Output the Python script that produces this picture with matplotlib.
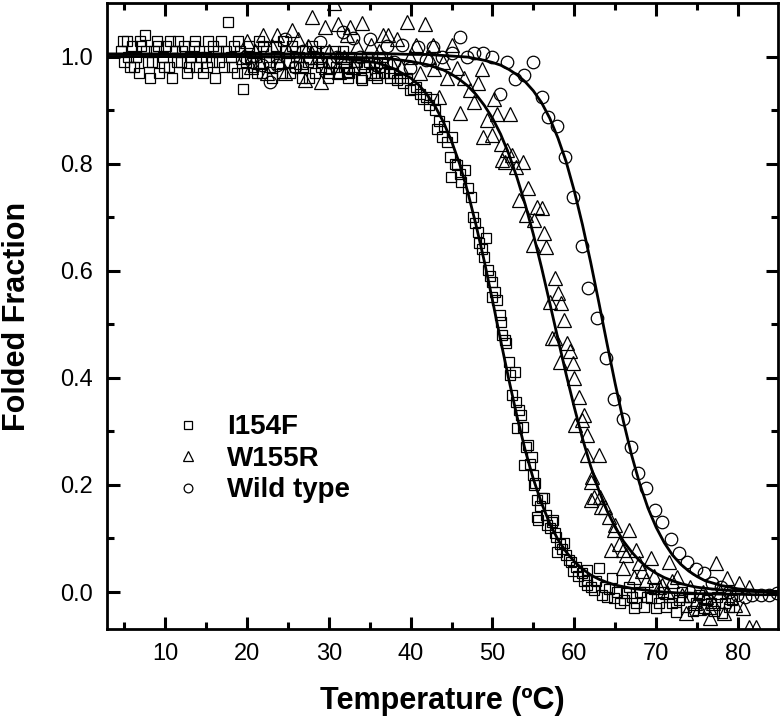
import matplotlib
matplotlib.use('Agg')
import matplotlib.pyplot as plt

plt.rcParams['font.family'] = ['Liberation Sans', 'DejaVu Sans']

# I154F (squares)
i154f_t = [4.6, 5.0, 5.3, 5.7, 6.0, 6.4, 6.8, 7.1, 7.5, 7.9, 8.2, 8.6, 9.0, 9.3, 9.7,
           10.1, 10.5, 10.8, 11.2, 11.6, 12.0, 12.3, 12.7, 13.1, 13.5, 13.8, 14.2, 14.6,
           15.0, 15.3, 15.7, 16.1, 16.5, 16.8, 17.2, 17.7, 18.0, 18.4, 18.8, 19.2, 19.5,
           19.9, 20.3, 20.7, 21.1, 21.5, 21.9, 22.3, 22.7, 23.1, 23.5, 23.9, 24.3, 24.7,
           25.1, 25.5, 25.9, 26.3, 26.7, 27.1, 27.5, 27.9, 28.3, 28.7, 29.1, 29.5, 29.9,
           30.3, 30.7, 31.1, 31.5, 31.9, 32.3, 32.7, 33.1, 33.5, 33.9, 34.3, 34.7, 35.1,
           35.5, 35.9, 36.3, 36.7, 37.1, 37.5, 37.9, 38.3, 38.7, 39.1, 39.5, 39.9, 40.3,
           40.7, 41.1, 41.5, 41.9, 42.3, 42.7, 43.0, 43.2, 43.5, 43.8, 44.1, 44.4, 44.8,
           44.9, 45.1, 45.4, 45.7, 46.0, 46.2, 46.6, 47.0, 47.4, 47.6, 47.9, 48.2, 48.4,
           48.7, 49.0, 49.2, 49.4, 49.7, 49.9, 50.0, 50.3, 50.6, 50.9, 51.1, 51.2, 51.5,
           51.7, 52.0, 52.1, 52.4, 52.7, 52.9, 53.0, 53.2, 53.5, 53.7, 53.9, 54.1, 54.3,
           54.6, 54.8, 54.9, 55.1, 55.2, 55.4, 55.5, 55.6, 55.8, 56.1, 56.3, 56.6, 56.7,
           57.0, 57.3, 57.4, 57.6, 57.8, 57.9, 58.2, 58.5, 58.8, 59.0, 59.3, 59.6, 59.9,
           60.2, 60.5, 60.9, 61.2, 61.5, 61.5, 61.6, 62.0, 62.4, 62.7, 63.0, 63.4, 63.7,
           64.0, 64.3, 64.6, 64.9, 65.2, 65.6, 66.1, 66.3, 66.7, 67.0, 67.3, 67.6, 68.0,
           68.5, 68.9, 69.4, 69.7, 70.0, 70.4, 70.8, 71.2, 71.6, 72.0, 72.4, 72.8, 73.2,
           73.7, 74.1, 74.5, 74.9, 75.3, 75.8, 76.2, 76.7, 77.1, 77.5, 78.0, 78.4, 78.9,
           79.3,
           4.8, 5.5, 6.2, 6.9, 7.7, 8.4, 9.1, 9.9, 10.6, 11.4, 12.1, 12.9, 13.6, 14.4,
           15.1, 15.9, 16.6, 17.4, 18.2, 18.9, 19.7, 20.4, 21.2, 22.0, 22.8, 23.6, 24.4,
           25.2, 26.0, 26.8, 27.6, 28.4, 29.2, 30.0, 30.9, 31.7, 32.5, 33.3, 34.1, 34.9,
           35.7, 36.5, 37.3, 32.2]
i154f_f = [1.01, 0.99, 1.03, 0.98, 1.02, 1.00, 0.97, 1.02, 1.04, 0.99, 0.96, 1.01, 1.03, 0.97, 1.00,
           1.02, 0.98, 0.96, 1.01, 1.03, 0.99, 1.02, 0.97, 1.00, 1.02, 0.98, 1.01, 0.97,
           1.00, 1.03, 0.99, 0.96, 1.01, 1.03, 0.98, 1.065, 1.00, 1.02, 0.97, 1.01, 0.94,
           0.99, 1.02, 0.98, 1.00, 1.03, 0.97, 1.01, 0.99, 0.96, 1.02, 1.00, 0.97, 1.01,
           0.99, 1.02, 0.98, 1.00, 0.96, 1.01, 0.99, 1.02, 0.97, 1.00, 0.98, 1.01, 0.96,
           0.99, 1.01, 0.97, 1.00, 0.98, 0.96, 1.00, 0.98, 0.99, 0.96, 0.98, 1.00, 0.97,
           0.99, 0.96, 0.98, 0.97, 0.99, 0.96, 0.97, 0.957, 0.96, 0.95, 0.96, 0.938, 0.94,
           0.944, 0.93, 0.92, 0.925, 0.91, 0.92, 0.90, 0.864, 0.88, 0.85, 0.87, 0.84, 0.813,
           0.776, 0.849, 0.80, 0.798, 0.78, 0.766, 0.789, 0.755, 0.738, 0.701, 0.69, 0.673, 0.652,
           0.64, 0.626, 0.662, 0.602, 0.59, 0.579, 0.551, 0.56, 0.546, 0.518, 0.505, 0.48, 0.47,
           0.465, 0.43, 0.405, 0.368, 0.411, 0.355, 0.306, 0.34, 0.331, 0.308, 0.237, 0.27, 0.274,
           0.24, 0.252, 0.219, 0.20, 0.204, 0.172, 0.14, 0.135, 0.16, 0.176, 0.176, 0.144, 0.125,
           0.12, 0.131, 0.135, 0.11, 0.103, 0.075, 0.09, 0.08, 0.092, 0.069, 0.06, 0.056, 0.04,
           0.047, 0.03, 0.035, 0.02, 0.041, 0.013, 0.022, 0.01, 0.004, 0.02, 0.045, -0.006, 0.01,
           -0.01, 0.005, 0.026, -0.011, 0.0, -0.02, -0.015, -0.002, 0.01, -0.01, -0.03, -0.021, 0.0,
           -0.028, -0.01, -0.011, 0.005, -0.03, -0.02, 0.0, -0.028, -0.01, -0.02, -0.037, -0.015, 0.0,
           -0.028, -0.01, -0.035, -0.021, -0.005, -0.03, -0.015, -0.021, -0.035, -0.01, -0.04, -0.02, -0.028,
           -0.015,
           1.03, 1.00, 0.98, 1.03, 1.01, 0.99, 1.02, 0.98, 1.03, 0.99, 1.01, 0.98, 1.03, 1.00,
           0.98, 1.02, 0.99, 1.01, 0.98, 1.03, 0.97, 1.00, 0.97, 1.02, 0.98, 1.00, 1.03,
           0.97, 1.00, 0.98, 0.96, 1.01, 0.99, 0.97, 0.98, 1.01, 0.97, 0.99, 0.957, 0.99,
           0.97, 1.00, 0.97, 0.972]

# W155R (triangles)
w155r_t = [19.5, 20.0, 20.5, 21.0, 21.5, 22.0, 22.5, 23.0, 23.7, 24.0, 24.6, 25.0, 25.5,
           26.2, 26.6, 27.1, 27.5, 28.0, 28.5, 29.1, 29.5, 29.6, 30.0, 30.6, 31.1, 31.3,
           31.8, 32.2, 32.6, 33.0, 33.5, 34.1, 34.5, 35.2, 35.6, 36.1, 36.6, 37.2, 37.6,
           38.3, 38.8, 39.5, 39.9, 40.7, 41.2, 41.7, 42.3, 42.7, 42.9, 43.5, 44.0, 44.5,
           45.1, 45.7, 46.0, 46.5, 47.2, 47.8, 48.2, 48.7, 48.8, 49.3, 49.9, 50.2, 50.5,
           51.1, 51.2, 51.5, 51.8, 52.1, 52.4, 52.9, 53.3, 53.7, 54.1, 54.3, 54.9, 55.1,
           55.5, 56.0, 56.3, 56.6, 57.0, 57.3, 57.6, 57.7, 58.0, 58.2, 58.4, 58.8, 59.1,
           59.5, 59.8, 60.0, 60.1, 60.6, 60.9, 61.2, 61.5, 61.6, 62.0, 62.1, 62.2, 62.4,
           63.0, 63.1, 63.3, 63.7, 64.2, 64.5, 64.9, 65.0, 65.5, 65.9, 66.0, 66.3, 66.7,
           67.3, 67.6, 67.9, 68.3, 68.8, 69.4, 69.8, 70.3, 70.7, 71.3, 71.6, 72.0, 72.6,
           73.2, 73.7, 74.2, 74.7, 75.2, 75.7, 76.1, 76.5, 76.6, 77.0, 77.3, 77.8, 78.3,
           78.7, 79.2, 79.7, 80.1, 80.6, 81.3, 81.3, 82.2]
w155r_f = [1.00, 1.03, 0.98, 1.01, 0.99, 1.04, 0.97, 1.02, 1.041, 0.99, 0.97, 1.01, 1.05,
           1.032, 0.99, 0.957, 1.02, 1.073, 1.00, 0.953, 1.056, 0.98, 1.01, 1.10, 1.06, 0.972,
           1.00, 1.04, 1.056, 0.98, 1.02, 1.063, 0.99, 1.022, 0.97, 1.01, 1.04, 1.041, 0.99,
           1.032, 0.98, 1.065, 1.00, 1.022, 0.97, 1.06, 1.00, 1.022, 0.976, 0.925, 0.99, 0.96,
           1.022, 0.979, 0.895, 0.96, 0.938, 0.916, 0.95, 0.976, 0.85, 0.882, 0.854, 0.92, 0.892,
           0.836, 0.807, 0.804, 0.826, 0.892, 0.817, 0.793, 0.733, 0.804, 0.705, 0.755, 0.649, 0.695,
           0.72, 0.718, 0.671, 0.645, 0.542, 0.475, 0.587, 0.475, 0.559, 0.43, 0.54, 0.508, 0.465,
           0.45, 0.428, 0.40, 0.312, 0.365, 0.321, 0.33, 0.293, 0.256, 0.172, 0.206, 0.215, 0.178,
           0.256, 0.178, 0.159, 0.159, 0.14, 0.079, 0.116, 0.125, 0.09, 0.079, 0.045, 0.07, 0.116,
           0.028, 0.079, 0.054, 0.04, 0.022, 0.064, 0.03, 0.01, 0.013, 0.0, 0.056, 0.02, 0.028,
           -0.006, -0.04, 0.01, -0.02, -0.03, 0.0, -0.01, -0.028, -0.049, -0.02, 0.054, 0.0, -0.04,
           0.026, -0.01, -0.024, 0.017, -0.03, 0.009, -0.066, -0.066]

# Wild type (circles)
wt_t = [19.8, 20.6, 21.8, 22.8, 23.7, 24.6, 25.9, 26.8, 27.7, 28.9, 30.0, 31.0, 31.7,
        32.9, 33.8, 35.0, 35.8, 37.1, 38.0, 38.9, 39.9, 40.9, 41.9, 42.7, 43.8, 45.0,
        46.0, 46.9, 47.8, 48.8, 49.9, 50.9, 51.8, 52.8, 53.9, 54.9, 56.0, 56.8, 57.9,
        58.9, 59.8, 60.9, 61.7, 62.8, 63.9, 64.9, 65.9, 66.9, 67.8, 68.8, 69.9, 70.7,
        71.8, 72.8, 73.8, 74.9, 75.9, 76.8, 77.9, 78.9, 79.9, 80.9, 81.7, 82.8, 83.8, 84.8]
wt_f = [1.00, 0.989, 0.985, 0.953, 0.985, 1.032, 0.981, 1.01, 0.998, 1.028, 0.99, 1.0, 1.045,
        1.035, 1.0, 1.032, 0.985, 1.019, 0.99, 1.022, 0.979, 1.017, 0.994, 1.017, 1.0, 1.007,
        1.037, 1.0, 1.007, 1.007, 1.0, 0.931, 0.989, 0.959, 0.966, 0.989, 0.925, 0.888, 0.871,
        0.812, 0.738, 0.647, 0.568, 0.512, 0.437, 0.361, 0.323, 0.271, 0.222, 0.194, 0.153, 0.131,
        0.099, 0.073, 0.056, 0.043, 0.035, 0.017, 0.009, 0.0, -0.006, -0.009, -0.006, -0.006, -0.006, -0.002]

# fitted curves
fit_t = [3, 10, 20, 30, 34, 36, 38, 40, 41, 42, 43, 44, 45, 46, 47, 48, 49, 50, 51, 52,
         53, 54, 55, 56, 57, 58, 59, 60, 61, 62, 63, 64, 65, 66, 67, 68, 69, 70, 71, 72,
         73, 74, 75, 76, 78, 80, 82, 85]
fit_i154f = [1.0, 1.0, 1.0, 0.998, 0.993, 0.988, 0.977, 0.960, 0.947, 0.929, 0.907, 0.878,
             0.842, 0.799, 0.746, 0.685, 0.618, 0.545, 0.470, 0.397, 0.328, 0.265, 0.211,
             0.166, 0.128, 0.098, 0.075, 0.057, 0.043, 0.032, 0.024, 0.018, 0.013, 0.010,
             0.007, 0.005, 0.003, 0.001, 0.0, -0.001, -0.002, -0.002, -0.003, -0.003,
             -0.004, -0.004, -0.005, -0.005]
fit_w155r = [1.0, 1.0, 1.0, 0.999, 0.998, 0.997, 0.995, 0.991, 0.988, 0.985, 0.980, 0.975,
             0.967, 0.957, 0.945, 0.929, 0.909, 0.885, 0.855, 0.818, 0.774, 0.724, 0.668,
             0.606, 0.540, 0.473, 0.407, 0.345, 0.287, 0.235, 0.190, 0.152, 0.121, 0.095,
             0.075, 0.058, 0.045, 0.035, 0.027, 0.021, 0.016, 0.012, 0.009, 0.007, 0.004,
             0.002, 0.001, 0.0]
fit_wt = [1.005, 1.005, 1.005, 1.005, 1.005, 1.005, 1.005, 1.004, 1.004, 1.004, 1.003, 1.002,
          1.001, 1.0, 0.999, 0.996, 0.993, 0.989, 0.984, 0.976, 0.966, 0.953, 0.936, 0.914,
          0.885, 0.848, 0.804, 0.749, 0.686, 0.616, 0.541, 0.464, 0.389, 0.319, 0.256, 0.202,
          0.157, 0.121, 0.092, 0.069, 0.052, 0.039, 0.029, 0.021, 0.012, 0.006, 0.003, 0.001]

fig = plt.figure(figsize=(7.8, 7.2), dpi=100)
ax = fig.add_axes([0.1372, 0.1264, 0.8603, 0.8694])

mk = dict(linestyle='none', markerfacecolor='none', markeredgecolor='black',
          markeredgewidth=0.9)
ax.plot(i154f_t, i154f_f, marker='s', markersize=7.6, label='I154F', **mk)
ax.plot(w155r_t, w155r_f, marker='^', markersize=9.5, label='W155R', **mk)
ax.plot(wt_t, wt_f, marker='o', markersize=9, label='Wild type', **mk)

ax.plot(fit_t, fit_i154f, color='black', linewidth=2)
ax.plot(fit_t, fit_w155r, color='black', linewidth=2)
ax.plot(fit_t, fit_wt, color='black', linewidth=2)

ax.set_xlim(2.9, 84.9)
ax.set_ylim(-0.069, 1.10)
ax.set_xticks([10, 20, 30, 40, 50, 60, 70, 80])
ax.set_xticks([5, 15, 25, 35, 45, 55, 65, 75], minor=True)
ax.set_yticks([0.0, 0.2, 0.4, 0.6, 0.8, 1.0])
ax.set_yticks([0.1, 0.3, 0.5, 0.7, 0.9], minor=True)
ax.set_yticklabels(['0.0', '0.2', '0.4', '0.6', '0.8', '1.0'])

ax.tick_params(which='both', direction='in', top=True, right=True, width=2.2)
ax.tick_params(which='major', length=9, labelsize=17, pad=10)
ax.tick_params(which='minor', length=4.8)
for s in ax.spines.values():
    s.set_linewidth(2)

ax.set_xlabel('Temperature (ºC)', fontsize=22, fontweight='bold', va='center')
ax.set_ylabel('Folded Fraction', fontsize=22, fontweight='bold', va='center')
ax.xaxis.set_label_coords(0.5, -0.115)
ax.yaxis.set_label_coords(-0.134, 0.5)

leg = ax.legend(loc='upper left', bbox_to_anchor=(0.104, 0.343), frameon=False,
                borderpad=0, borderaxespad=0, handlelength=0.8, handletextpad=1.0,
                labelspacing=0.2, markerscale=0.7,
                prop={'size': 20, 'weight': 'bold'})

fig.savefig('out.png', dpi=100)
